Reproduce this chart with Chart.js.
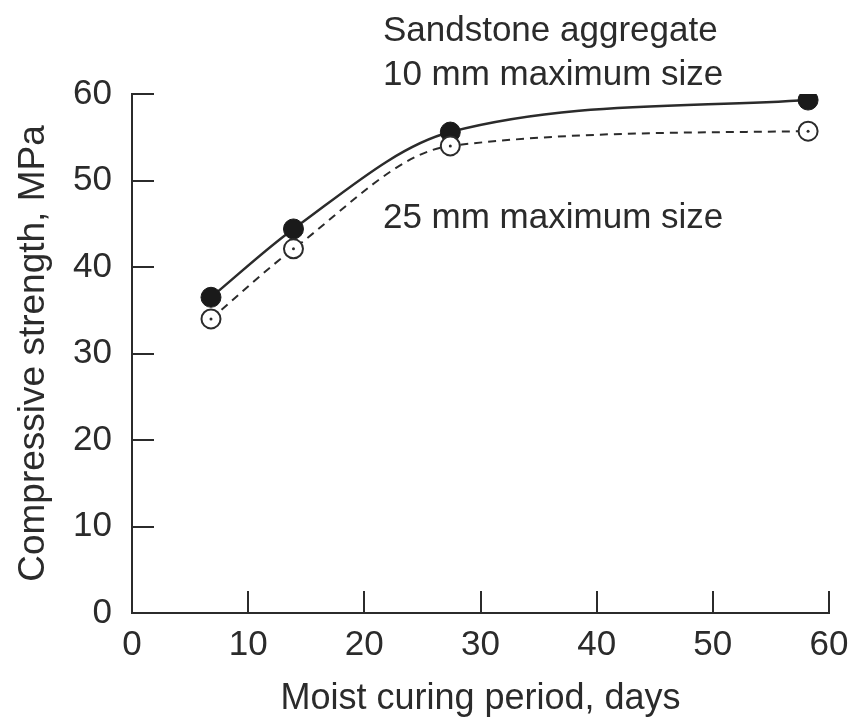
<!DOCTYPE html>
<html>
<head>
<meta charset="utf-8">
<script src="https://cdn.jsdelivr.net/npm/chart.js@4/dist/chart.umd.min.js"></script>
<style>
  html, body { margin: 0; padding: 0; background: #fff; }
  #wrap { width: 852px; height: 723px; }
</style>
</head>
<body>
<div id="wrap"><canvas id="chart" width="852" height="723"></canvas></div>
<script>
// data
const curingDays = [6.8, 13.9, 27.4, 58.2];
const strength10mm = [36.5, 44.4, 55.6, 59.3];
const strength25mm = [34.0, 42.1, 54.0, 55.7];
const xTicks = [0, 10, 20, 30, 40, 50, 60];
const yTicks = [0, 10, 20, 30, 40, 50, 60];

const INK = '#2b2b2b';
const FONT = 'Liberation Sans, Arial, Helvetica, sans-serif';

const toPoints = (xs, ys) => xs.map((x, i) => ({ x: x, y: ys[i] }));

// text notes placed in data coordinates
const notes = [
  { text: 'Sandstone aggregate', x: 21.6, y: 66.1 },
  { text: '10 mm maximum size', x: 21.6, y: 61.0 },
  { text: '25 mm maximum size', x: 21.6, y: 44.5 }
];

const notePlugin = {
  id: 'notes',
  afterDraw(chart) {
    const ctx = chart.ctx;
    const xs = chart.scales.x, ys = chart.scales.y;
    ctx.save();
    ctx.font = '35px ' + FONT;
    ctx.fillStyle = INK;
    ctx.textAlign = 'left';
    ctx.textBaseline = 'alphabetic';
    notes.forEach(n => ctx.fillText(n.text, xs.getPixelForValue(n.x), ys.getPixelForValue(n.y)));
    ctx.restore();
  }
};

const ctx = document.getElementById('chart').getContext('2d');
new Chart(ctx, {
  type: 'line',
  data: {
    datasets: [
      {
        // centre dots of the open circles
        data: toPoints(curingDays, strength25mm),
        showLine: false,
        pointRadius: 1.5,
        pointBackgroundColor: INK,
        pointBorderWidth: 0,
        order: 0
      },
      {
        label: '25 mm maximum size',
        data: toPoints(curingDays, strength25mm),
        borderColor: INK,
        borderWidth: 2,
        borderDash: [8, 6],
        cubicInterpolationMode: 'monotone',
        pointRadius: 9.5,
        pointBackgroundColor: '#fff',
        pointBorderColor: INK,
        pointBorderWidth: 2,
        order: 1
      },
      {
        label: '10 mm maximum size',
        data: toPoints(curingDays, strength10mm),
        borderColor: INK,
        borderWidth: 2.5,
        cubicInterpolationMode: 'monotone',
        pointRadius: 10,
        pointBackgroundColor: '#1a1a1a',
        pointBorderColor: '#1a1a1a',
        pointBorderWidth: 1,
        order: 2
      }
    ]
  },
  options: {
    responsive: false,
    animation: false,
    layout: { padding: { top: 94, right: 0, left: 0, bottom: 0 } },
    plugins: {
      legend: { display: false },
      tooltip: { enabled: false }
    },
    scales: {
      x: {
        type: 'linear',
        min: 0,
        max: 60,
        afterBuildTicks: s => { s.ticks = xTicks.map(v => ({ value: v })); },
        afterFit: s => { s.height = 110; s.paddingRight = 23; s.paddingLeft = 0; },
        grid: { drawOnChartArea: false, tickLength: -22, color: INK, lineWidth: 2 },
        border: { color: INK, width: 2 },
        ticks: { color: INK, font: { family: FONT, size: 35 }, padding: 33, maxRotation: 0 },
        title: {
          display: true,
          text: 'Moist curing period, days',
          color: INK,
          font: { family: FONT, size: 36 },
          padding: { top: 0, bottom: 2 }
        }
      },
      y: {
        type: 'linear',
        min: 0,
        max: 60,
        afterBuildTicks: s => { s.ticks = yTicks.map(v => ({ value: v })); },
        afterFit: s => { s.width = 132; },
        grid: { drawOnChartArea: false, tickLength: -22, color: INK, lineWidth: 2 },
        border: { color: INK, width: 2 },
        ticks: { color: INK, font: { family: FONT, size: 35 }, padding: 42 },
        title: {
          display: true,
          text: 'Compressive strength, MPa',
          color: INK,
          font: { family: FONT, size: 37 },
          padding: { top: 12, bottom: 0 }
        }
      }
    }
  },
  plugins: [notePlugin]
});
</script>
</body>
</html>
